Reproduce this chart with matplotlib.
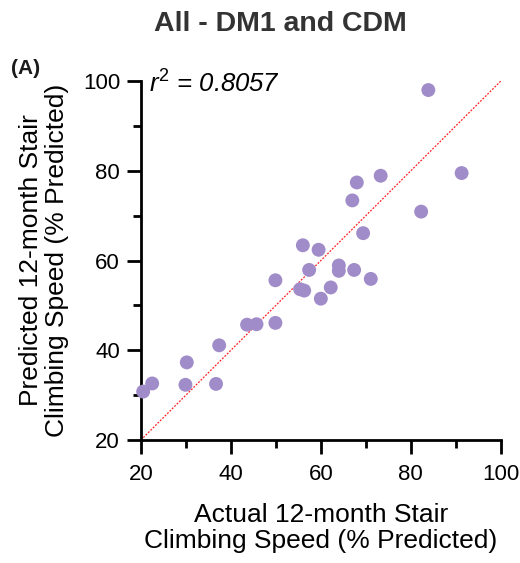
import matplotlib

matplotlib.use("Agg")
import matplotlib.pyplot as plt
from matplotlib.ticker import MultipleLocator

plt.rcParams["font.family"] = ["Liberation Sans", "DejaVu Sans"]
plt.rcParams["mathtext.fontset"] = "custom"
plt.rcParams["mathtext.rm"] = "Liberation Sans"
plt.rcParams["mathtext.it"] = "Liberation Sans:italic"

# actual vs predicted 12-month stair climbing speed (% predicted)
actual = [20.5, 22.5, 30.2, 29.9, 36.7, 37.4, 43.6, 45.7, 49.9, 49.9,
          55.4, 56.3, 56.0, 57.4, 59.5, 60.0, 62.2, 64.0, 64.0, 67.4,
          67.0, 68.0, 69.4, 71.1, 73.3, 82.3, 83.9, 91.3]
predicted = [30.8, 32.6, 37.3, 32.3, 32.5, 41.1, 45.7, 45.8, 46.1, 55.6,
             53.6, 53.3, 63.4, 57.9, 62.4, 51.5, 54.0, 58.9, 57.7, 57.9,
             73.4, 77.4, 66.1, 55.9, 78.9, 70.9, 98.0, 79.5]
identity = [20, 100]
r_squared = 0.8057

fig = plt.figure(figsize=(5.2, 5.63), dpi=100)
ax = fig.add_axes([0.271, 0.2185, 0.692, 0.6375])

ax.plot(identity, identity, color="#ff2020", linewidth=0.9,
        linestyle=(0, (1.5, 1.2)), zorder=2)
ax.scatter(actual, predicted, s=100, color="#a08cc8", edgecolors="none",
           zorder=3, clip_on=False)

ax.set_xlim(20, 100)
ax.set_ylim(20, 100)
ax.xaxis.set_major_locator(MultipleLocator(20))
ax.yaxis.set_major_locator(MultipleLocator(20))
ax.xaxis.set_minor_locator(MultipleLocator(10))
ax.yaxis.set_minor_locator(MultipleLocator(10))

for side in ("top", "right"):
    ax.spines[side].set_visible(False)
for side in ("left", "bottom"):
    ax.spines[side].set_linewidth(2)
    ax.spines[side].set_color("black")

ax.tick_params(which="major", length=10, width=2, labelsize=16, color="black")
ax.tick_params(axis="x", which="major", pad=7)
ax.tick_params(axis="y", which="major", pad=5)
ax.tick_params(which="minor", length=5.5, width=2, color="black")

ax.set_xlabel("Actual 12-month Stair\nClimbing Speed (% Predicted)",
              fontsize=19, labelpad=13, linespacing=1.1)
ax.set_ylabel("Predicted 12-month Stair\nClimbing Speed (% Predicted)",
              fontsize=19, labelpad=10, linespacing=1.1)

ax.text(0.022, 0.967, f"$r^2$ = {r_squared:.4f}", transform=ax.transAxes,
        fontsize=18.5, style="italic", ha="left", va="baseline")

fig.text(0.54, 0.945, "All - DM1 and CDM", ha="center", va="baseline",
         fontsize=20.5, fontweight="bold", color="#333333")
fig.text(0.022, 0.868, "(A)", ha="left", va="baseline", fontsize=15,
         fontweight="bold", color="#1a1a1a")

fig.savefig("out.png", dpi=100)
